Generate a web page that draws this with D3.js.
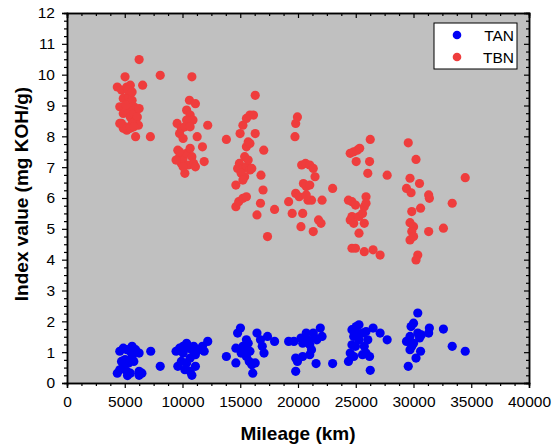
<!DOCTYPE html>
<html>
<head>
<meta charset="utf-8">
<script src="https://cdn.jsdelivr.net/npm/d3@7/dist/d3.min.js"></script>
<style>
  body { margin: 0; background: #fff; }
  text { font-family: "Liberation Sans", Arial, sans-serif; }
</style>
</head>
<body>
<svg id="chart" width="552" height="446"></svg>
<script>
// values
var seriesNames = ["TAN", "TBN"];
var xTicks = [0, 5000, 10000, 15000, 20000, 25000, 30000, 35000, 40000];
var yTicks = [0, 1, 2, 3, 4, 5, 6, 7, 8, 9, 10, 11, 12];

var tanX = [4356, 4570, 4873, 5178, 5483, 5635, 5940, 6244, 5026, 5331, 4873, 5178, 5483, 5239, 5787, 5635, 6244, 6487, 6244, 4721, 4570, 7250, 8072,
  9443, 9595, 9747, 10052, 10357, 10509, 10813, 10661, 10357, 10204, 10661, 10813, 11118, 11118, 11422, 11727, 11879, 12184, 10966, 10052, 9899,
  13798, 14621, 14621, 14773, 15017, 15230, 15534, 15687, 15382, 15839, 15534, 15778, 16000, 16083, 16296, 15078, 16448, 16752, 16905, 17057, 17362, 17971,
  19190, 19647, 19799, 19951, 19799, 20256, 20408, 20713, 20865, 21018, 21170, 21322, 21475, 21627, 21931, 22084, 21018, 20408, 21566, 22997,
  24368, 24520, 24672, 24825, 24672, 25038, 25282, 25129, 24977, 24825, 25282, 25586, 25890, 26043, 25738, 25890, 26195, 26256, 26500, 27110, 27720, 25586,
  29547, 29395, 29699, 29790, 30004, 29851, 29699, 30004, 30369, 30369, 30521, 30612, 30217, 30674, 31313, 31374, 32590, 33352, 34479];
var tanY = [0.32, 1.03, 1.13, 1.08, 1.03, 1.19, 1.08, 0.97, 0.76, 0.65, 0.54, 0.38, 0.32, 0.24, 0.70, 0.86, 0.38, 0.32, 0.25, 0.70, 0.43, 1.03, 0.54,
  1.03, 0.54, 1.13, 0.97, 1.29, 1.13, 1.08, 0.81, 0.65, 0.43, 0.38, 0.25, 0.54, 0.92, 1.08, 1.19, 1.03, 1.35, 1.19, 1.19, 0.70,
  0.86, 0.65, 1.13, 1.62, 1.78, 1.19, 1.40, 1.29, 1.13, 1.03, 0.86, 0.70, 0.59, 0.32, 0.65, 0.97, 1.62, 1.40, 1.19, 0.97, 1.51, 1.35,
  1.35, 1.35, 0.81, 0.70, 0.38, 1.46, 1.29, 1.62, 1.40, 1.24, 1.08, 1.62, 1.46, 1.40, 1.78, 1.51, 0.92, 0.86, 0.63, 0.63,
  0.70, 0.97, 1.24, 1.51, 1.73, 1.83, 1.89, 1.62, 1.19, 0.86, 1.40, 1.62, 1.67, 1.40, 1.19, 0.97, 0.86, 0.41, 1.78, 1.62, 1.40, 0.92,
  0.54, 1.35, 1.51, 1.83, 1.94, 1.19, 1.08, 1.29, 1.62, 2.27, 1.46, 1.03, 0.81, 1.56, 1.62, 1.78, 1.75, 1.19, 1.03];

var tbnX = [4356, 5026, 4721, 4570, 4873, 5178, 5483, 5331, 5635, 5787, 4721, 5026, 4873, 5331, 5483, 5787, 5940, 6092, 6183, 5635, 5178, 5940, 4873, 4570, 5483, 5787, 5087, 5270, 5635, 6244,
  6244, 6549, 8072, 7219,
  9534, 9747, 9899, 10052, 10357, 10600, 10813, 11118, 10661, 10905, 10357, 10204, 10661, 11270, 11727, 11879, 12184, 9595, 9747, 9899, 10052, 10357, 10661, 10813, 10204, 10509, 10966, 11118, 10052, 9747, 9443,
  13798, 14621, 14621, 14865, 15230, 15534, 14987, 15230, 15534, 15839, 16143, 16296, 16296, 15534, 15687, 15839, 15382, 14926, 14773, 15230, 15534, 15839, 15382, 15078, 15687, 16000, 15230, 17036, 16793, 16975, 16752, 16448, 17971, 17362,
  19190, 19495, 19799, 19738, 19799, 19951, 20104, 20256, 20408, 20469, 20317, 20652, 21018, 21322, 21475, 20713, 21018, 20865, 21170, 20713, 21322, 21779, 21992, 22084, 22997,
  24520, 24825, 25129, 25342, 25038, 26256, 26195, 26043, 24368, 24672, 24977, 24672, 24520, 24825, 24672, 24977, 25282, 25282, 25586, 25738, 25890, 25890, 25738, 25738, 26500, 27110, 27720,
  29547, 30217, 29699, 29395, 29790, 30521, 31313, 31374, 29851, 30612, 29699, 30004, 29851, 29699, 30004, 31313, 30369, 30217, 32590, 33352, 34479];
var tbnY = [9.60, 9.93, 9.50, 8.96, 9.23, 9.60, 9.66, 9.28, 9.17, 8.96, 8.42, 8.31, 8.74, 8.85, 8.63, 8.74, 8.53, 8.63, 8.36, 8.42, 8.20, 7.99, 8.26, 8.42, 8.26, 8.31, 9.01, 9.50, 9.44, 8.90,
  10.49, 9.66, 9.98, 7.99,
  8.42, 8.09, 8.26, 7.93, 8.85, 9.17, 9.93, 9.06, 8.69, 8.53, 8.53, 8.31, 8.31, 7.99, 7.66, 7.18, 8.36, 7.55, 7.34, 7.12, 7.28, 7.45, 7.61, 7.34, 6.80, 7.07, 7.12, 7.01, 7.01, 7.50, 7.23,
  7.90, 6.42, 5.72, 5.88, 5.99, 6.04, 8.09, 8.36, 8.58, 8.69, 8.69, 9.33, 8.09, 7.66, 7.82, 7.77, 7.34, 7.12, 6.96, 6.96, 7.01, 6.91, 6.69, 6.80, 7.23, 6.96, 6.58, 7.55, 6.74, 6.26, 5.83, 5.45, 5.63, 4.75,
  5.88, 5.50, 6.15, 7.99, 8.42, 8.63, 6.04, 5.07, 5.50, 6.47, 7.07, 7.12, 7.07, 6.96, 6.69, 6.37, 6.42, 5.93, 5.93, 6.10, 4.91, 5.29, 5.18, 5.93, 6.31,
  7.45, 7.50, 7.55, 7.61, 7.18, 7.90, 7.18, 6.80, 5.93, 5.88, 5.77, 5.40, 5.29, 5.18, 4.37, 4.37, 4.86, 5.40, 5.50, 5.72, 6.04, 5.83, 5.18, 4.26, 4.32, 4.15, 6.74,
  7.79, 7.25, 6.64, 6.31, 6.17, 6.47, 6.10, 5.99, 5.56, 5.67, 5.20, 5.07, 4.91, 4.64, 4.75, 4.91, 4.15, 3.99, 5.02, 5.83, 6.66];

var colors = {TAN: "#0000f5", TBN: "#ef3d3d"};

var plot = {left: 67, right: 529, top: 13, bottom: 383};
var svg = d3.select("#chart");

var x = d3.scaleLinear().domain([0, 40000]).range([plot.left, plot.right]);
var y = d3.scaleLinear().domain([0, 12]).range([plot.bottom, plot.top]);

svg.append("rect")
    .attr("x", plot.left).attr("y", plot.top)
    .attr("width", plot.right - plot.left).attr("height", plot.bottom - plot.top)
    .attr("fill", "#c0c0c0");

var xMinor = d3.range(0, 40001, 1250).filter(function (d) { return d % 5000 != 0; });
var yMinor = d3.range(0, 12.01, 0.25).filter(function (d) { return d % 1 != 0; });

function styleAxis(g) {
    g.selectAll("path").attr("stroke", "#000").attr("stroke-width", 1.5);
    g.selectAll("line").attr("stroke", "#000").attr("stroke-width", 1.2);
    g.selectAll("text").attr("font-size", "15.5px").attr("fill", "#000")
        .attr("font-family", "'Liberation Sans', Arial, sans-serif");
}

// bottom + left: outward ticks with labels
svg.append("g").attr("transform", "translate(0," + plot.bottom + ")")
    .call(d3.axisBottom(x).tickValues(xMinor).tickSize(3).tickFormat(""))
    .call(styleAxis);
svg.append("g").attr("transform", "translate(0," + plot.bottom + ")")
    .call(d3.axisBottom(x).tickValues(xTicks).tickSize(5).tickPadding(8).tickFormat(d3.format("d")))
    .call(styleAxis);
svg.append("g").attr("transform", "translate(" + plot.left + ",0)")
    .call(d3.axisLeft(y).tickValues(yMinor).tickSize(3).tickFormat(""))
    .call(styleAxis);
svg.append("g").attr("transform", "translate(" + plot.left + ",0)")
    .call(d3.axisLeft(y).tickValues(yTicks).tickSize(5).tickPadding(7).tickFormat(d3.format("d")))
    .call(styleAxis);

// top + right: inward ticks, no labels
svg.append("g").attr("transform", "translate(0," + plot.top + ")")
    .call(d3.axisTop(x).tickValues(xMinor).tickSize(-3).tickFormat(""))
    .call(styleAxis);
svg.append("g").attr("transform", "translate(0," + plot.top + ")")
    .call(d3.axisTop(x).tickValues(xTicks).tickSize(-5).tickFormat(""))
    .call(styleAxis);
svg.append("g").attr("transform", "translate(" + plot.right + ",0)")
    .call(d3.axisRight(y).tickValues(yMinor).tickSize(-3).tickFormat(""))
    .call(styleAxis);
svg.append("g").attr("transform", "translate(" + plot.right + ",0)")
    .call(d3.axisRight(y).tickValues(yTicks).tickSize(-5).tickFormat(""))
    .call(styleAxis);

function toPoints(xs, ys) {
    return xs.map(function (d, i) { return [d, ys[i]]; });
}

var seriesData = {TAN: toPoints(tanX, tanY), TBN: toPoints(tbnX, tbnY)};

seriesNames.forEach(function (name) {
    svg.append("g").selectAll("circle")
        .data(seriesData[name])
        .enter().append("circle")
        .attr("cx", function (d) { return x(d[0]); })
        .attr("cy", function (d) { return y(d[1]); })
        .attr("r", 4.6)
        .attr("fill", colors[name]);
});

// legend
var legend = svg.append("g").attr("transform", "translate(434,23)");
legend.append("rect").attr("width", 83).attr("height", 46)
    .attr("fill", "#fff").attr("stroke", "#000").attr("stroke-width", 1);
seriesNames.forEach(function (name, i) {
    legend.append("circle").attr("cx", 23).attr("cy", 12 + i * 22).attr("r", 4.3).attr("fill", colors[name]);
    legend.append("text").attr("x", 80).attr("y", 12 + i * 22).attr("dy", "0.36em")
        .attr("text-anchor", "end").attr("font-size", "15.5px").attr("fill", "#000").text(name);
});

// axis titles
svg.append("text")
    .attr("x", (plot.left + plot.right) / 2).attr("y", 440)
    .attr("text-anchor", "middle").attr("font-size", "19px").attr("font-weight", "bold")
    .text("Mileage (km)");
svg.append("text")
    .attr("transform", "translate(28," + ((plot.top + plot.bottom) / 2 - 4) + ") rotate(-90)")
    .attr("text-anchor", "middle").attr("font-size", "19px").attr("font-weight", "bold")
    .text("Index value (mg KOH/g)");
</script>
</body>
</html>
